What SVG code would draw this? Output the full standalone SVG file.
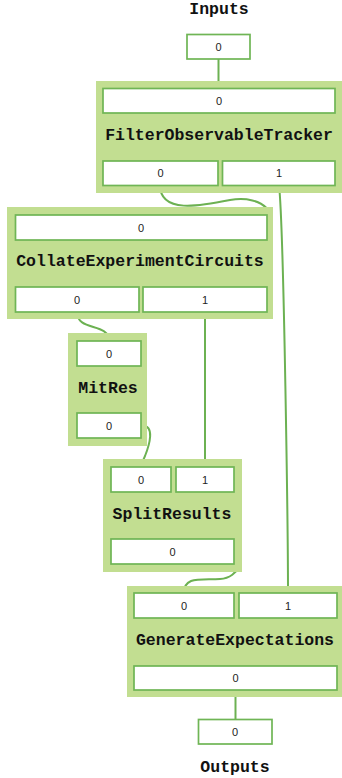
<svg xmlns="http://www.w3.org/2000/svg" width="342" height="778" viewBox="0 0 342 778">
<style>
.bg{fill:#c2de91;}
.port{fill:#fff;stroke:#6fb555;stroke-width:1.7;}
.pl{font-family:"Liberation Sans",Arial,sans-serif;font-size:11px;fill:#222;text-anchor:middle;}
.title{font-family:"Liberation Mono","Courier New",monospace;font-weight:bold;font-size:16.5px;fill:#111;text-anchor:middle;}
.edge{fill:none;stroke:#6cb152;stroke-width:2;}
</style>
<rect width="342" height="778" fill="#fff"/>
<g id="connectors">
<path class="edge" d="M218.5,59 L218.5,88"/>
<path class="edge" d="M160,185 C160,214 200,206 230,200 C265,194 280,218 267,228"/>
<path class="edge" d="M279,185 C284,230 288,540 288,593"/>
<path class="edge" d="M77,312 C77,332 109,322 109,341"/>
<path class="edge" d="M205,312 L205,467"/>
<path class="edge" d="M141,426 C156,424 149,446 145,456 C142,462 141,467 141,467"/>
<path class="edge" d="M234,551 C246,555 240,578 220,579 C200,580 184,576 184,593"/>
<path class="edge" d="M235.5,690 L235.5,719"/>
</g>
<g id="inputs">
<text class="title" x="219" y="14">Inputs</text>
<rect class="port" x="187" y="34.5" width="63" height="24.5"/>
<text class="pl" x="218.5" y="50.5">0</text>
</g>
<g id="FilterObservableTracker">
<rect class="bg" x="96" y="81" width="246" height="112"/>
<rect class="port" x="103" y="88.5" width="232" height="24.5"/>
<text class="pl" x="219" y="104.5">0</text>
<text class="title" x="219" y="140">FilterObservableTracker</text>
<rect class="port" x="103" y="161" width="115" height="24.5"/>
<text class="pl" x="160.5" y="177">0</text>
<rect class="port" x="222.5" y="161" width="112.5" height="24.5"/>
<text class="pl" x="279" y="177">1</text>
</g>
<g id="CollateExperimentCircuits">
<rect class="bg" x="7" y="207" width="266" height="112"/>
<rect class="port" x="15.5" y="215" width="251.5" height="25"/>
<text class="pl" x="141" y="231.5">0</text>
<text class="title" x="140" y="266">CollateExperimentCircuits</text>
<rect class="port" x="15.5" y="287" width="123.5" height="25"/>
<text class="pl" x="77" y="303.5">0</text>
<rect class="port" x="143" y="287" width="124" height="25"/>
<text class="pl" x="205" y="303.5">1</text>
</g>
<g id="MitRes">
<rect class="bg" x="68" y="333" width="79" height="113"/>
<rect class="port" x="77" y="341" width="64" height="25"/>
<text class="pl" x="109" y="357.5">0</text>
<text class="title" x="108" y="393">MitRes</text>
<rect class="port" x="77" y="413" width="64" height="25"/>
<text class="pl" x="109" y="429.5">0</text>
</g>
<g id="SplitResults">
<rect class="bg" x="103" y="459" width="139" height="113"/>
<rect class="port" x="111" y="467" width="60" height="25"/>
<text class="pl" x="141" y="483.5">0</text>
<rect class="port" x="176" y="467" width="58" height="25"/>
<text class="pl" x="205" y="483.5">1</text>
<text class="title" x="172" y="519">SplitResults</text>
<rect class="port" x="111" y="539" width="123" height="25"/>
<text class="pl" x="172.5" y="555.5">0</text>
</g>
<g id="GenerateExpectations">
<rect class="bg" x="127" y="586" width="215" height="111"/>
<rect class="port" x="134" y="593" width="100" height="25"/>
<text class="pl" x="184" y="609.5">0</text>
<rect class="port" x="239" y="593" width="98" height="25"/>
<text class="pl" x="288" y="609.5">1</text>
<text class="title" x="235" y="645">GenerateExpectations</text>
<rect class="port" x="134" y="666" width="203" height="24"/>
<text class="pl" x="235.5" y="682">0</text>
</g>
<g id="outputs">
<rect class="port" x="198.5" y="719.5" width="73.5" height="24.5"/>
<text class="pl" x="235" y="735.5">0</text>
<text class="title" x="235" y="772">Outputs</text>
</g>
</svg>
